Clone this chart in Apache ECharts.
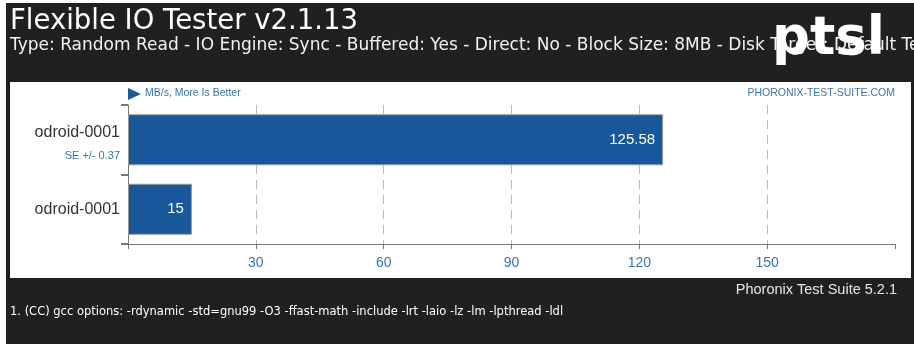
<!DOCTYPE html>
<html>
<head>
<meta charset="utf-8">
<script src="https://cdn.jsdelivr.net/npm/echarts@6/dist/echarts.min.js"></script>
<style>
  html, body { margin: 0; padding: 0; background: #fff; }
  #container { width: 914px; height: 347px; }
</style>
</head>
<body>
<div id="container"></div>
<script>
// chart data
const categories = ['odroid-0001', 'odroid-0001'];
const values = [125.58, 15];
const seNotes = ['SE +/- 0.37', ''];
const xTicks = [0, 30, 60, 90, 120, 150, 180];

const titleText = 'Flexible IO Tester v2.1.13';
const subtitleText = 'Type: Random Read - IO Engine: Sync - Buffered: Yes - Direct: No - Block Size: 8MB - Disk Target: Default Test Directory';
const footRight = 'Phoronix Test Suite 5.2.1';
const footNote = '1. (CC) gcc options: -rdynamic -std=gnu99 -O3 -ffast-math -include -lrt -laio -lz -lm -lpthread -ldl';

(function () {
    let dom = document.getElementById('container');
    let myChart = echarts.init(dom, null, { renderer: 'canvas' });

    const dark = '#221f1f';
    const blue = '#3a74ad';

    let option = {
        animation: false,
        backgroundColor: '#fff',
        graphic: [
            // dark frame
            { type: 'rect', shape: { x: 6, y: 3, width: 908, height: 341 }, style: { fill: dark }, z: 0, silent: true },
            // white plot panel
            { type: 'rect', shape: { x: 10, y: 82, width: 901, height: 196 }, style: { fill: '#fff' }, z: 0, silent: true },
            { type: 'text', left: 10, top: 8, style: { text: titleText, fill: '#fff', font: '27.5px "DejaVu Sans", sans-serif' }, z: 5 },
            { type: 'text', left: 10, top: 37, style: { text: subtitleText, fill: '#f2f2f2', font: '17px "DejaVu Sans", sans-serif' }, z: 5 },
            // logo
            { type: 'text', left: 772, top: 14, style: { text: 'ptsl', fill: '#fff', font: 'bold 53px "DejaVu Sans", sans-serif' }, z: 6 },
            // unit hint
            { type: 'polygon', shape: { points: [[128, 88], [141, 94], [128, 100]] }, style: { fill: '#1d5a96' }, z: 5 },
            { type: 'text', left: 145, top: 88, style: { text: 'MB/s, More Is Better', fill: blue, font: '10.5px "Liberation Sans", sans-serif' }, z: 5 },
            { type: 'text', right: 19, top: 88, style: { text: 'PHORONIX-TEST-SUITE.COM', fill: blue, font: '10.5px "Liberation Sans", sans-serif', align: 'right' }, z: 5 },
            // footer
            { type: 'text', right: 17, top: 282, style: { text: footRight, fill: '#e8e8e8', font: '14.5px "Liberation Sans", sans-serif', align: 'right' }, z: 5 },
            { type: 'text', left: 10, top: 306, style: { text: footNote, fill: '#fff', font: '11.5px "DejaVu Sans", sans-serif' }, z: 5 }
        ],
        grid: { left: 128, right: 19, top: 105, bottom: 103, containLabel: false },
        xAxis: {
            type: 'value',
            min: xTicks[0],
            max: xTicks[xTicks.length - 1],
            interval: 30,
            axisLine: { show: true, lineStyle: { color: '#777', width: 1 } },
            axisTick: { show: true, length: 5, lineStyle: { color: '#777' } },
            axisLabel: {
                margin: 12,
                color: blue,
                fontSize: 14,
                fontFamily: '"Liberation Sans", sans-serif',
                formatter: function (v) { return (v === 0 || v === 180) ? '' : String(v); }
            },
            splitLine: {
                show: true,
                showMinLine: false,
                showMaxLine: false,
                lineStyle: { color: '#bbb', type: [9, 6], width: 1 }
            }
        },
        yAxis: {
            type: 'category',
            inverse: true,
            data: categories,
            axisLine: { show: true, lineStyle: { color: '#777', width: 1 } },
            axisTick: { show: true, length: 7, lineStyle: { color: '#777', width: 2 } },
            axisLabel: {
                margin: 8,
                align: 'right',
                formatter: function (v, i) {
                    return seNotes[i]
                        ? '{sp| }\n{n|' + v + '}\n{se|' + seNotes[i] + '}'
                        : '{n|' + v + '}';
                },
                rich: {
                    sp: { fontSize: 1, lineHeight: 8 },
                    n: { fontSize: 16, color: '#333', fontFamily: '"Liberation Sans", sans-serif', lineHeight: 24, align: 'right' },
                    se: { fontSize: 11, color: blue, fontFamily: '"Liberation Sans", sans-serif', lineHeight: 22, align: 'right' }
                }
            }
        },
        series: [{
            type: 'bar',
            data: values,
            barWidth: 51,
            itemStyle: { color: '#18589a', borderColor: '#999', borderWidth: 1 },
            label: {
                show: true,
                position: 'insideRight',
                distance: 8,
                color: '#fff',
                fontSize: 15,
                fontFamily: '"Liberation Sans", sans-serif',
                formatter: function (p) { return String(p.value); }
            }
        }]
    };
    myChart.setOption(option);
})();
</script>
</body>
</html>
